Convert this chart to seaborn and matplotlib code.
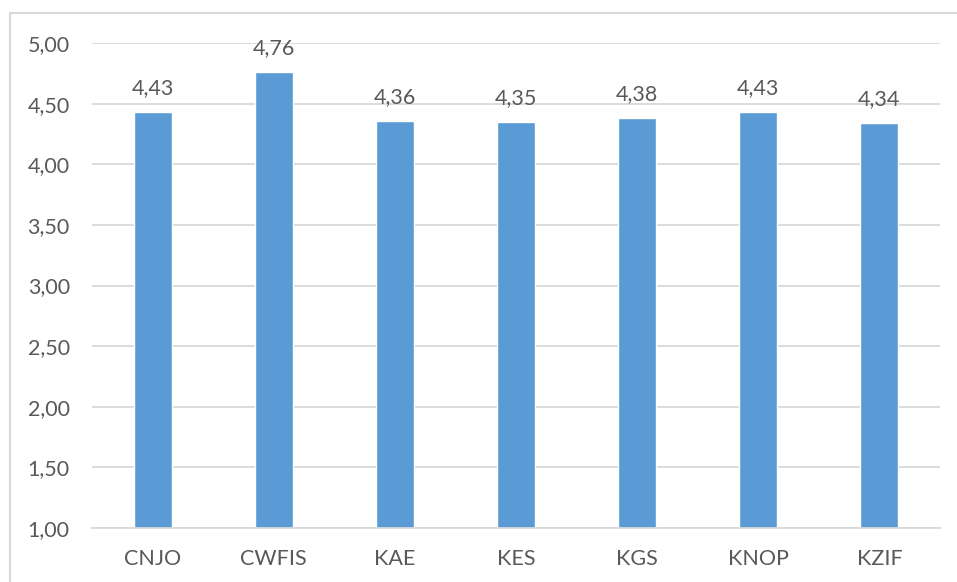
import matplotlib
matplotlib.use("Agg")
import matplotlib.pyplot as plt
import seaborn as sns
import pandas as pd
from matplotlib.patches import Rectangle
from matplotlib.ticker import FuncFormatter

categories = ["CNJO", "CWFIS", "KAE", "KES", "KGS", "KNOP", "KZIF"]
values = [4.43, 4.76, 4.36, 4.35, 4.38, 4.43, 4.34]
yticks = [1.0, 1.5, 2.0, 2.5, 3.0, 3.5, 4.0, 4.5, 5.0]

df = pd.DataFrame({"cat": categories, "val": values})

sns.set_theme(style="white")
plt.rcParams["font.family"] = ["Lato", "DejaVu Sans"]

TXT = "#595959"
GRID = "#D9D9D9"
BAR = "#5B9BD5"

fig = plt.figure(figsize=(9.57, 5.82), dpi=100)
W, H = 957, 582
ax = fig.add_axes([92 / W, 1 - 528 / H, (940 - 92) / W, (528 - 43) / H])

sns.barplot(data=df, x="cat", y="val", color=BAR, width=0.314, ax=ax,
            saturation=1, bottom=0)

ax.set_ylim(1, 5)
ax.set_xlim(-0.5, len(categories) - 0.5)
ax.set_yticks(yticks)
ax.yaxis.set_major_formatter(FuncFormatter(lambda v, p: f"{v:.2f}".replace(".", ",")))
ax.grid(axis="y", color=GRID, linewidth=1.3)
ax.set_axisbelow(True)
for s in ["top", "right", "left"]:
    ax.spines[s].set_visible(False)
ax.spines["bottom"].set_color(GRID)
ax.spines["bottom"].set_linewidth(1.3)
ax.tick_params(axis="y", length=0, pad=16, labelsize=15.5, labelcolor=TXT)
ax.tick_params(axis="x", length=0, pad=15, labelsize=15.5, labelcolor=TXT)
ax.set_xlabel("")
ax.set_ylabel("")

for i, v in enumerate(values):
    ax.annotate(f"{v:.2f}".replace(".", ","), xy=(i, v), xytext=(0, 10),
                textcoords="offset points", ha="center", va="bottom",
                fontsize=15.5, color=TXT)

fig.patches.append(Rectangle((10 / W, -0.1), 1.2, 1.1 - 13 / H,
                             transform=fig.transFigure, fill=False,
                             edgecolor=GRID, linewidth=1.5, figure=fig))

fig.savefig("out.png", dpi=100)
